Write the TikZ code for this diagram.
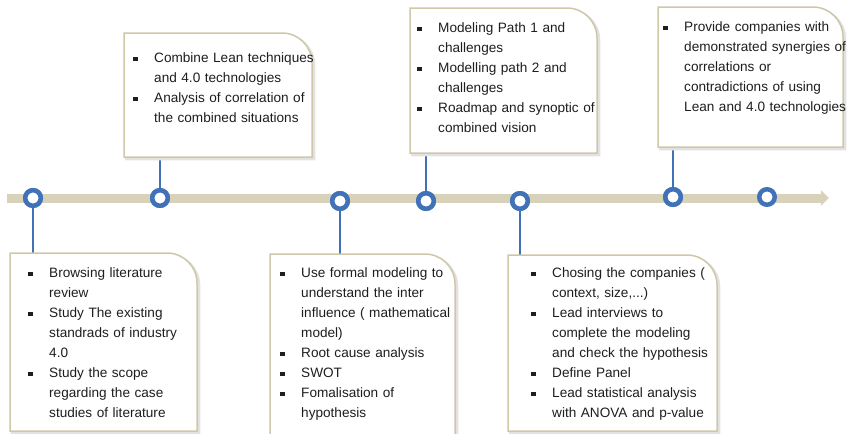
\documentclass[tikz,border=0pt]{standalone}
\usepackage{fontspec}
\setmainfont{Liberation Sans}
\usetikzlibrary{arrows.meta}
\definecolor{ringblue}{HTML}{4172B8}
\definecolor{barcol}{HTML}{D8D2BA}
\definecolor{boxline}{HTML}{CFC8A8}
\definecolor{shadowgray}{HTML}{E2E2E2}
\definecolor{textgray}{HTML}{1E1E1E}
\newcommand{\bitem}[1]{\hangindent=21pt\hangafter=1\noindent\makebox[21pt][l]{\rule[1.6pt]{4.5pt}{4.5pt}}\rule{0pt}{10pt}#1\par}
\newcommand{\tlframe}[1]{%
  \draw[boxshadow] ([shift={(2,-2)}]#1.south west) -- ([shift={(2,-2)}]#1.north west) -- ([shift={(-28,-2)}]#1.north east) arc[start angle=90,end angle=0,radius=30pt] -- ([shift={(2,-2)}]#1.south east) -- cycle;
  \draw[boxframe] (#1.south west) -- (#1.north west) -- ([xshift=-30pt]#1.north east) arc[start angle=90,end angle=0,radius=30pt] -- (#1.south east) -- cycle;}
\begin{document}
\begin{tikzpicture}[x=1pt,y=1pt,
  ring/.style={circle, draw=ringblue, line width=4.5pt, fill=white, minimum size=15.5pt, inner sep=0pt},
  link/.style={draw=ringblue, line width=1.3pt},
  bar/.style={draw=barcol, line width=9pt, -{Triangle[width=15pt,length=8pt]}},
  boxnode/.style={rectangle, draw=none, inner sep=0pt, outer sep=0pt, anchor=north west},
  boxframe/.style={draw=boxline, line width=1.5pt, fill=white},
  boxshadow/.style={draw=shadowgray, line width=2.5pt},
  txt/.style={anchor=north west, inner sep=0pt, text width=230pt, font=\fontsize{13.6}{20}\selectfont, text=textgray}]
\path[use as bounding box] (0,0) rectangle (847,-434);
\clip (0,0) rectangle (847,-434);

% timeline bar
\coordinate (barstart) at (7,-198);
\coordinate (barend) at (829,-198);
\draw[bar] (barstart) -- (barend);

% rings
\node[ring] (c1) at (33,-198) {};
\node[ring] (c2) at (160,-198) {};
\node[ring] (c3) at (340,-201) {};
\node[ring] (c4) at (426,-201) {};
\node[ring] (c5) at (520,-201) {};
\node[ring] (c6) at (673,-197) {};
\node[ring] (c7) at (767,-197) {};

% boxes
\node[boxnode, minimum width=187pt, minimum height=178pt] (b1) at (10,-253) {};
\node[boxnode, minimum width=188pt, minimum height=124pt] (b2) at (124,-33) {};
\node[boxnode, minimum width=185pt, minimum height=192pt] (b3) at (270,-254) {};
\node[boxnode, minimum width=187pt, minimum height=145pt] (b4) at (410,-8) {};
\node[boxnode, minimum width=209pt, minimum height=176pt] (b5) at (508,-255) {};
\node[boxnode, minimum width=185pt, minimum height=140pt] (b6) at (658,-7) {};

% connectors
\draw[link] (c1.south) -- (c1.south |- b1.north);
\draw[link] (c2.north) -- (c2.north |- b2.south);
\draw[link] (c3.south) -- (c3.south |- b3.north);
\draw[link] (c4.north) -- (c4.north |- b4.south);
\draw[link] (c5.south) -- (c5.south |- b5.north);
\draw[link] (c6.north) -- (c6.north |- b6.south);

\tlframe{b1}
\tlframe{b2}
\tlframe{b3}
\tlframe{b4}
\tlframe{b5}
\tlframe{b6}

% redraw rings on top of links
\node[ring] at (c1) {};
\node[ring] at (c2) {};
\node[ring] at (c3) {};
\node[ring] at (c4) {};
\node[ring] at (c5) {};
\node[ring] at (c6) {};

% texts
\node[txt] (t1) at (28,-267.5) {%
\bitem{Browsing literature\newline review}%
\bitem{Study The existing\newline standrads of industry\newline 4.0}%
\bitem{Study the scope\newline regarding the case\newline studies of literature}};

\node[txt] (t2) at (133,-52.5) {%
\bitem{Combine Lean techniques\newline and 4.0 technologies}%
\bitem{Analysis of correlation of\newline the combined situations}};

\node[txt] (t3) at (280,-267.5) {%
\bitem{Use formal modeling to\newline understand the inter\newline influence ( mathematical\newline model)}%
\bitem{Root cause analysis}%
\bitem{SWOT}%
\bitem{Fomalisation of\newline hypothesis}};

\node[txt] (t4) at (417,-22.5) {%
\bitem{Modeling Path 1 and\newline challenges}%
\bitem{Modelling path 2 and\newline challenges}%
\bitem{Roadmap and synoptic of\newline combined vision}};

\node[txt] (t5) at (531,-267.5) {%
\bitem{Chosing the companies (\newline context, size,...)}%
\bitem{Lead interviews to\newline complete the modeling\newline and check the hypothesis}%
\bitem{Define Panel}%
\bitem{Lead statistical analysis\newline with ANOVA and p-value}};

\node[txt] (t6) at (663,-21.5) {%
\bitem{Provide companies with\newline demonstrated synergies of\newline correlations or\newline contradictions of using\newline Lean and 4.0 technologies}};
\end{tikzpicture}
\end{document}
